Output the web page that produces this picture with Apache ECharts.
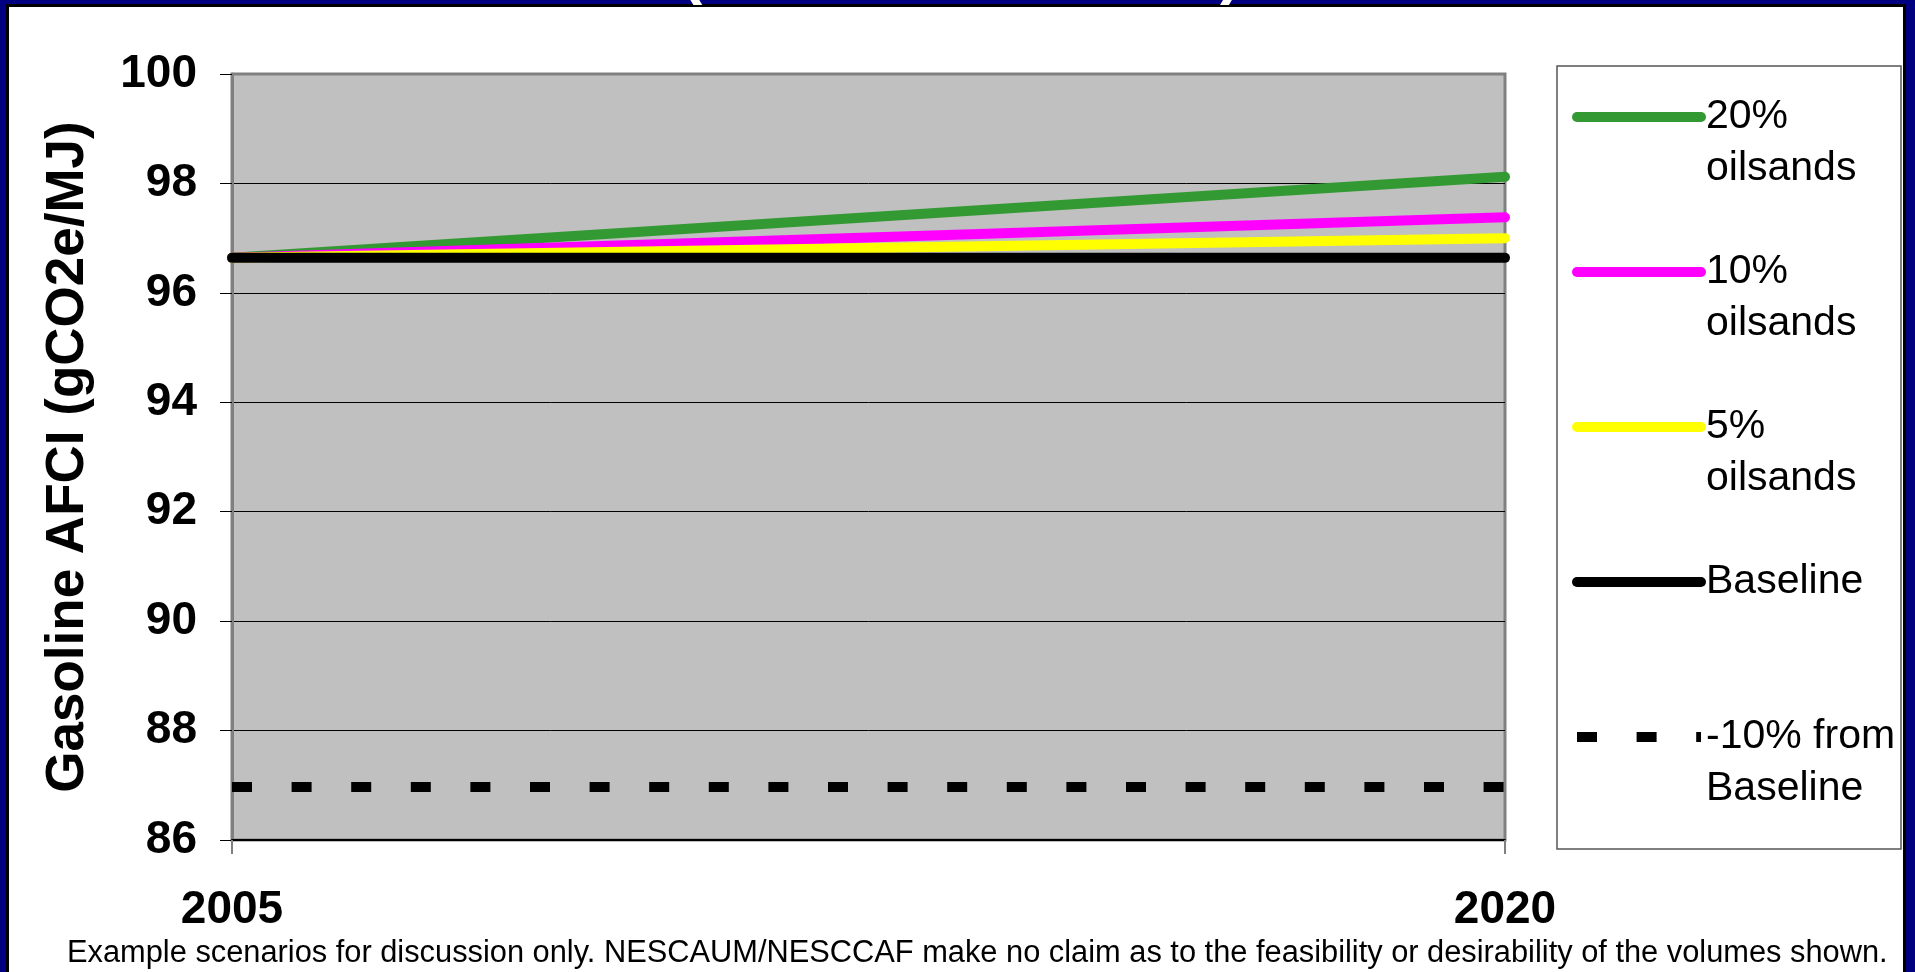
<!DOCTYPE html>
<html>
<head>
    <meta charset="utf-8">
    <script src="https://cdn.jsdelivr.net/npm/echarts@6/dist/echarts.min.js"></script>
    <style>
        html, body { margin: 0; padding: 0; width: 1915px; height: 972px; overflow: hidden; background: #000080; }
        .panel { position: absolute; left: 6px; top: 4px; width: 1894px; height: 990px; background: #fff; border: 3px solid #000; }
        #container { position: absolute; left: 0; top: 0; width: 1915px; height: 972px; }
    </style>
</head>
<body>
<div class="panel"></div>
<div id="container"></div>
<script>
    // values
    let years = ['2005', '2020'];
    let names = ['20%\noilsands', '10%\noilsands', '5%\noilsands', 'Baseline', '-10% from\nBaseline'];
    let oil20 = [96.64, 98.12];
    let oil10 = [96.64, 97.38];
    let oil5 = [96.64, 97.0];
    let baseline = [96.64, 96.64];
    let minus10 = [86.97, 86.97];
    let yMin = 86, yMax = 100, yStep = 2;

    let font = '"Liberation Sans", Arial, sans-serif';
    let dom = document.getElementById('container');
    let myChart = echarts.init(dom, null, {renderer: 'canvas'});

    function lineSeries(name, data, color, type, cap) {
        return {
            name: name,
            type: 'line',
            data: data,
            symbol: 'none',
            silent: true,
            lineStyle: {color: color, width: 10, type: type, cap: cap},
            itemStyle: {color: color},
            emphasis: {disabled: true}
        };
    }

    let option = {
        animation: false,
        grid: {
            left: 232, top: 74, right: 410, bottom: 132,
            show: true,
            backgroundColor: '#C0C0C0',
            borderColor: '#808080',
            borderWidth: 3,
            outerBoundsMode: 'none'
        },
        xAxis: {
            type: 'category',
            data: years,
            boundaryGap: false,
            axisLine: {lineStyle: {color: '#000', width: 2}},
            axisTick: {length: 14, lineStyle: {color: '#808080', width: 2}},
            axisLabel: {fontSize: 46, fontWeight: 'bold', color: '#000', fontFamily: font, margin: 47}
        },
        yAxis: {
            type: 'value',
            min: yMin, max: yMax, interval: yStep,
            name: 'Gasoline AFCI (gCO2e/MJ)',
            nameLocation: 'middle',
            nameRotate: 90,
            nameGap: 137,
            nameMoveOverlap: false,
            nameTextStyle: {fontSize: 53, fontWeight: 'bold', color: '#000', fontFamily: font},
            axisLine: {show: true, lineStyle: {color: '#808080', width: 3}},
            axisTick: {show: true, length: 12, lineStyle: {color: '#000', width: 1}},
            axisLabel: {fontSize: 46, fontWeight: 'bold', color: '#000', fontFamily: font, margin: 35},
            splitLine: {show: true, showMinLine: false, showMaxLine: false, lineStyle: {color: '#000', width: 1}}
        },
        legend: {
            orient: 'vertical',
            left: 1572, top: 39,
            padding: 0,
            itemGap: -1,
            itemWidth: 124,
            itemHeight: 10,
            selectedMode: false,
            lineStyle: {width: 'inherit', cap: 'inherit'},
            itemStyle: {opacity: 0},
            textStyle: {fontSize: 41, lineHeight: 52, color: '#000', fontFamily: font},
            // pad every entry to three lines so the first text line sits on the line sample
            formatter: function (n) {
                return n.indexOf('\n') >= 0 ? ' \n' + n : ' \n' + n + '\n ';
            },
            data: names
        },
        graphic: [
            {type: 'rect', z: -1, shape: {x: 1557, y: 66, width: 344, height: 783},
                style: {fill: '#fff', stroke: '#555', lineWidth: 1.5}},
            {type: 'text', x: 681, y: 6, style: {text: '(', fill: '#fff', font: 'bold 64px ' + font, textVerticalAlign: 'bottom'}},
            {type: 'text', x: 1220, y: 6, style: {text: ')', fill: '#fff', font: 'bold 64px ' + font, textVerticalAlign: 'bottom'}},
            {type: 'text', x: 67, y: 954,
                style: {text: 'Example scenarios for discussion only. NESCAUM/NESCCAF make no claim as to the feasibility or desirability of the volumes shown.',
                    fill: '#000', font: '30.8px ' + font, textVerticalAlign: 'middle'}}
        ],
        series: [
            lineSeries(names[0], oil20, '#339933', 'solid', 'round'),
            lineSeries(names[1], oil10, '#FF00FF', 'solid', 'round'),
            lineSeries(names[2], oil5, '#FFFF00', 'solid', 'round'),
            lineSeries(names[3], baseline, '#000000', 'solid', 'round'),
            lineSeries(names[4], minus10, '#000000', [20, 39.6], 'butt')
        ]
    };
    myChart.setOption(option);
</script>
</body>
</html>
